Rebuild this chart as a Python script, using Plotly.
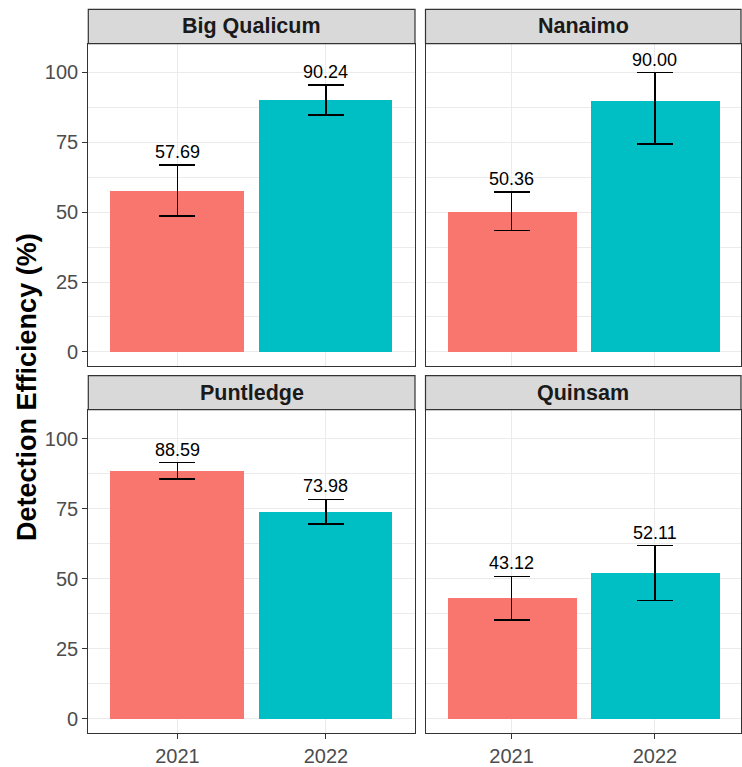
import plotly.graph_objects as go

# ---- data ----
sites = ["Big Qualicum", "Nanaimo", "Puntledge", "Quinsam"]
years = ["2021", "2022"]
eff_2021 = [57.69, 50.36, 88.59, 43.12]
eff_2022 = [90.24, 90.00, 73.98, 52.11]
upper_2021 = [66.8, 57.3, 91.4, 50.8]
lower_2021 = [48.6, 43.4, 85.6, 35.3]
upper_2022 = [95.4, 99.9, 78.3, 61.8]
lower_2022 = [84.8, 74.4, 69.4, 42.2]
y_ticks = [0, 25, 50, 75, 100]
year_colors = ["#F8766D", "#00BFC4"]

W, H = 742, 767
FONT = "Liberation Sans, Arial, Helvetica, sans-serif"


def px_x(v):
    return v / W


def px_y(v):
    return (H - v) / H


# panel pixel boxes (left, right), (top, bottom)
col_x = [(88.3, 415.0), (425.5, 741.0)]
row_y = [(44.0, 370.0), (414.0, 740.7)]
strip_h = 34.5

fig = go.Figure()
annotations = []
shapes = []
yr = [-5.1, 110.3]

for i, site in enumerate(sites):
    r, c = divmod(i, 2)
    n = i + 1
    xs = "x" if n == 1 else f"x{n}"
    ys = "y" if n == 1 else f"y{n}"
    vals = [eff_2021[i], eff_2022[i]]
    ups = [upper_2021[i], upper_2022[i]]
    los = [lower_2021[i], lower_2022[i]]
    fig.add_trace(go.Bar(
        x=years, y=vals, xaxis=xs, yaxis=ys, width=0.9,
        marker=dict(color=year_colors, line=dict(width=0)),
        error_y=dict(type="data", symmetric=False,
                     array=[u - v for u, v in zip(ups, vals)],
                     arrayminus=[v - l for v, l in zip(vals, los)],
                     color="black", thickness=1.6, width=18),
        showlegend=False, hoverinfo="skip",
    ))
    for j, (v, u) in enumerate(zip(vals, ups)):
        annotations.append(dict(
            x=j, y=u, xref=xs, yref=ys, text=f"{v:.2f}", showarrow=False,
            xanchor="center", yanchor="bottom", yshift=1,
            font=dict(family=FONT, size=18, color="black")))

    x0, x1 = col_x[c]
    y0, y1 = row_y[r]
    dom_x = [px_x(x0), px_x(x1)]
    dom_y = [px_y(y1), px_y(y0)]
    axx = dict(domain=dom_x, anchor=ys, type="category", range=[-0.6, 1.6],
               showline=True, mirror=True, linecolor="#333333", linewidth=1.2,
               showgrid=True, gridcolor="#EBEBEB", gridwidth=1.1,
               ticks="outside" if r == 1 else "", ticklen=5, tickcolor="#333333",
               tickwidth=1.1, showticklabels=(r == 1),
               tickfont=dict(family=FONT, size=20, color="#4D4D4D"),
               zeroline=False)
    axy = dict(domain=dom_y, anchor=xs, range=yr, tickvals=y_ticks,
               showline=True, mirror=True, linecolor="#333333", linewidth=1.2,
               showgrid=True, gridcolor="#EBEBEB", gridwidth=1.1,
               minor=dict(tickvals=[12.5, 37.5, 62.5, 87.5], showgrid=True,
                          gridcolor="#EBEBEB", gridwidth=0.6),
               ticks="outside" if c == 0 else "", ticklen=5, tickcolor="#333333",
               tickwidth=1.1, showticklabels=(c == 0),
               tickfont=dict(family=FONT, size=20, color="#4D4D4D"),
               zeroline=False)
    fig.update_layout(**{("xaxis" if n == 1 else f"xaxis{n}"): axx,
                         ("yaxis" if n == 1 else f"yaxis{n}"): axy})
    # strip
    s_top = y0 - strip_h
    shapes.append(dict(type="rect", xref="paper", yref="paper",
                       x0=px_x(x0), x1=px_x(x1), y0=px_y(y0), y1=px_y(s_top),
                       fillcolor="#D9D9D9", line=dict(color="#333333", width=1.2),
                       layer="above"))
    annotations.append(dict(x=px_x((x0 + x1) / 2), y=px_y((y0 + s_top) / 2),
                            xref="paper", yref="paper", text=f"<b>{site}</b>",
                            showarrow=False, xanchor="center", yanchor="middle",
                            font=dict(family=FONT, size=21.5, color="#1A1A1A")))

annotations.append(dict(x=px_x(27), y=px_y(391), xref="paper", yref="paper",
                        text="<b>Detection Efficiency (%)</b>", textangle=-90,
                        showarrow=False, xanchor="center", yanchor="middle",
                        font=dict(family=FONT, size=27, color="black")))

fig.update_layout(width=W, height=H, autosize=False,
                  margin=dict(l=0, r=0, t=0, b=0, pad=0),
                  paper_bgcolor="white", plot_bgcolor="white",
                  annotations=annotations, shapes=shapes, bargap=0)
fig.write_html(
    "out.html",
    config={"displayModeBar": False, "responsive": False},
    post_script="document.body.style.margin='0';"
                "document.body.style.overflow='hidden';",
)
